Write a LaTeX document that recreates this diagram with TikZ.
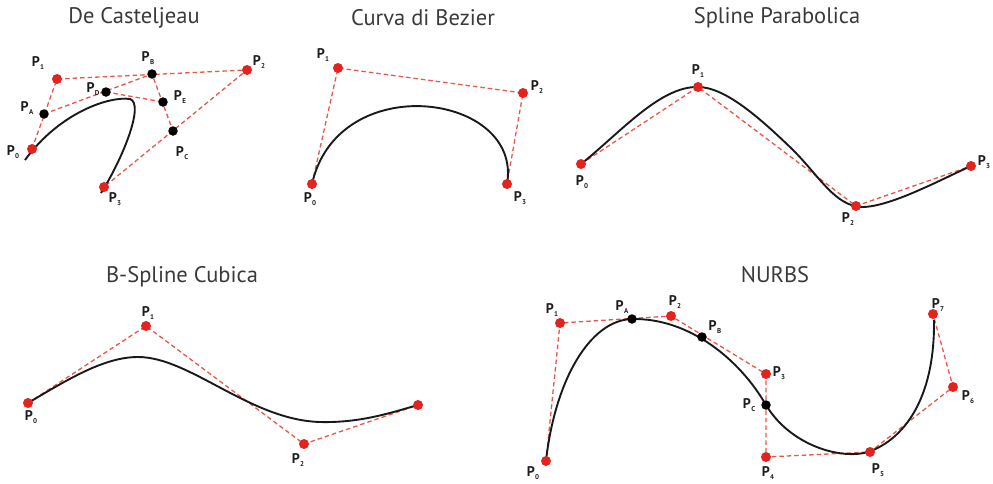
\documentclass[tikz,border=0pt]{standalone}
\usepackage{fontspec}
\setmainfont{PT Sans}
\usetikzlibrary{backgrounds}
\definecolor{dotred}{HTML}{E3231E}
\definecolor{dashred}{HTML}{E8574C}
\definecolor{titlegray}{HTML}{3A3A3A}
\definecolor{lblblack}{HTML}{1E1E1E}
\newcommand\lbl[1]{P\kern0.4pt\raisebox{-0.4ex}{\fontsize{7}{7}\selectfont #1}}
\tikzset{
  reddot/.style={circle,fill=dotred,draw=none,inner sep=0pt,minimum size=10pt},
  blackdot/.style={circle,fill=black,draw=none,inner sep=0pt,minimum size=9.5pt},
  ctrl/.style={draw=dashred,line width=1.3pt,dash pattern=on 4.5pt off 3pt},
  crv/.style={draw=black!90,line width=1.9pt},
  ttl/.style={text=titlegray,font=\fontsize{22.5}{22.5}\selectfont,inner sep=0pt},
  plbl/.style={text=lblblack,font=\fontsize{14}{14}\selectfont\bfseries,inner sep=0pt}
}
\begin{document}
\begin{tikzpicture}[x=1pt,y=-1pt]
\useasboundingbox (0,0) rectangle (993,483);
% titles
\node[ttl] (t1) at (134,18) {De Casteljeau};
\node[ttl] (t2) at (423,18) {Curva di Bezier};
\node[ttl] (t3) at (777,18) {Spline Parabolica};
\node[ttl] (t4) at (182,277) {B-Spline Cubica};
\node[ttl] (t5) at (775,275) {NURBS};

% ---------- De Casteljeau
\node[reddot] (a0) at (32,149) {};
\node[reddot] (a1) at (57,79) {};
\node[reddot] (a2) at (247,70) {};
\node[reddot] (a3) at (104,187) {};
\node[blackdot] (aA) at (44,114) {};
\node[blackdot] (aB) at (152,74) {};
\node[blackdot] (aC) at (173,131) {};
\node[blackdot] (aD) at (106,92) {};
\node[blackdot] (aE) at (163,102) {};
\begin{scope}[on background layer]
\draw[ctrl] (a0.center) -- (a1.center) -- (a2.center) -- (a3.center);
\draw[ctrl] (aA.center) -- (aB.center) -- (aC.center);
\draw[ctrl] (aD.center) -- (aE.center);
\draw[crv] (25,160) .. controls (60,112) and (110,96) .. (130,99)
  .. controls (145,104) and (122,160) .. (101,193);
\end{scope}
\node[plbl] (la0) at (13,152) {\lbl{0}};
\node[plbl] (la1) at (38,63) {\lbl{1}};
\node[plbl] (la2) at (259,62) {\lbl{2}};
\node[plbl] (la3) at (115,199) {\lbl{3}};
\node[plbl] (laA) at (27,108) {\lbl{A}};
\node[plbl] (laB) at (148,58) {\lbl{B}};
\node[plbl] (laC) at (182,153) {\lbl{C}};
\node[plbl] (laD) at (93,89) {\lbl{D}};
\node[plbl] (laE) at (180,97) {\lbl{E}};

% ---------- Curva di Bezier
\node[reddot] (b0) at (312,184) {};
\node[reddot] (b1) at (338,68) {};
\node[reddot] (b2) at (523,93) {};
\node[reddot] (b3) at (507,184) {};
\begin{scope}[on background layer]
\draw[ctrl] (b0.center) -- (b1.center) -- (b2.center) -- (b3.center);
\draw[crv] (b0.center) .. controls (b1.center) and (b2.center) .. (b3.center);
\end{scope}
\node[plbl] (lb0) at (310,199) {\lbl{0}};
\node[plbl] (lb1) at (323,55) {\lbl{1}};
\node[plbl] (lb2) at (537,87) {\lbl{2}};
\node[plbl] (lb3) at (520,198) {\lbl{3}};

% ---------- Spline Parabolica
\node[reddot] (c0) at (581,164) {};
\node[reddot] (c1) at (698,87) {};
\node[reddot] (c2) at (856,206) {};
\node[reddot] (c3) at (971,166) {};
\begin{scope}[on background layer]
\draw[ctrl] (c0.center) -- (c1.center) -- (c2.center) -- (c3.center);
\draw[crv] (c0.center) .. controls (620,133) and (660,86) .. (c1.center)
  .. controls (725,87) and (760,118) .. (793,150)
  .. controls (820,177) and (835,206) .. (862,207)
  .. controls (890,207) and (940,180) .. (c3.center);
\end{scope}
\node[plbl] (lc0) at (582,182) {\lbl{0}};
\node[plbl] (lc1) at (698,71) {\lbl{1}};
\node[plbl] (lc2) at (848,219) {\lbl{2}};
\node[plbl] (lc3) at (984,162) {\lbl{3}};

% ---------- B-Spline Cubica
\node[reddot] (d0) at (28,403) {};
\node[reddot] (d1) at (146,326) {};
\node[reddot] (d2) at (304,444) {};
\node[reddot] (d3) at (418,405) {};
\begin{scope}[on background layer]
\draw[ctrl] (d0.center) -- (d1.center) -- (d2.center) -- (d3.center);
\draw[crv] (d0.center) .. controls (70,378) and (105,357) .. (138,357)
  .. controls (190,357) and (250,420) .. (320,422)
  .. controls (360,423) and (390,413) .. (d3.center);
\end{scope}
\node[plbl] (ld0) at (31,417) {\lbl{0}};
\node[plbl] (ld1) at (148,313) {\lbl{1}};
\node[plbl] (ld2) at (298,460) {\lbl{2}};

% ---------- NURBS
\node[reddot] (e0) at (546,461) {};
\node[reddot] (e1) at (560,323) {};
\node[reddot] (e2) at (671,316) {};
\node[reddot] (e3) at (766,374) {};
\node[reddot] (e4) at (766,457) {};
\node[reddot] (e5) at (870,452) {};
\node[reddot] (e6) at (953,387) {};
\node[reddot] (e7) at (933,314) {};
\node[blackdot] (eA) at (632,319) {};
\node[blackdot] (eB) at (702,337) {};
\node[blackdot] (eC) at (766,405) {};
\begin{scope}[on background layer]
\draw[ctrl] (e0.center) -- (e1.center) -- (e2.center) -- (e3.center) -- (e4.center) -- (e5.center) -- (e6.center) -- (e7.center);
\draw[crv] (e0.center) .. controls (555,380) and (590,320) .. (eA.center)
  .. controls (690,318) and (740,360) .. (eC.center)
  .. controls (790,445) and (840,460) .. (868,452)
  .. controls (903,440) and (935,400) .. (934,320);
\end{scope}
\node[plbl] (le0) at (533,473) {\lbl{0}};
\node[plbl] (le1) at (552,310) {\lbl{1}};
\node[plbl] (leA) at (622,307) {\lbl{A}};
\node[plbl] (le2) at (675,302) {\lbl{2}};
\node[plbl] (leB) at (715,327) {\lbl{B}};
\node[plbl] (le3) at (779,373) {\lbl{3}};
\node[plbl] (leC) at (749,405) {\lbl{C}};
\node[plbl] (le4) at (768,473) {\lbl{4}};
\node[plbl] (le5) at (878,470) {\lbl{5}};
\node[plbl] (le6) at (968,397) {\lbl{6}};
\node[plbl] (le7) at (938,305) {\lbl{7}};
\end{tikzpicture}
\end{document}
